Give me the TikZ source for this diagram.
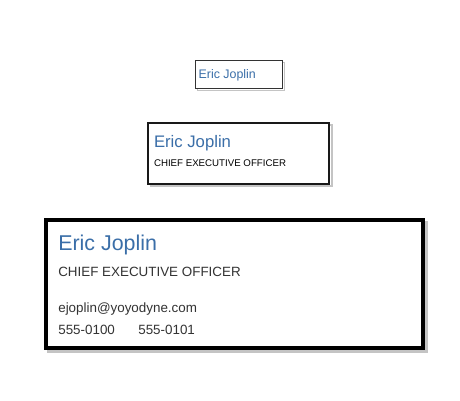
\documentclass[tikz,border=0pt]{standalone}
\usepackage{fontspec}
\setmainfont{Liberation Sans}
\definecolor{nameblue}{HTML}{3A6EA8}
\definecolor{titlegrey}{HTML}{333333}
\definecolor{shadowgrey}{HTML}{C4C4C4}
\begin{document}
\begin{tikzpicture}[x=1pt,y=-1pt,
  cardbox/.style={draw, fill=white, inner sep=0pt, outer sep=0pt},
  shadowbox/.style={draw=shadowgrey, inner sep=0pt, outer sep=0pt},
  txt/.style={anchor=base west, inner sep=0pt, outer sep=0pt},
  nm/.style={txt, text=nameblue},
  tt/.style={txt, text=titlegrey}]
\useasboundingbox (0,0) rectangle (460,400);
% small card
\node[shadowbox, line width=1pt, minimum width=87pt, minimum height=28pt] (s1) at (240.5,76) {};
\node[cardbox, draw=titlegrey, line width=1pt, minimum width=87pt, minimum height=28pt] (b1) at (239,74.5) {};
\node[nm, font=\fontsize{12.4}{14}\selectfont] (n1) at (198.7,78.5) {Eric Joplin};
% medium card
\node[shadowbox, line width=2pt, minimum width=181pt, minimum height=61pt] (s2) at (241,155.5) {};
\node[cardbox, draw=black!90, line width=2pt, minimum width=181pt, minimum height=61pt] (b2) at (238.5,153.5) {};
\node[nm, font=\fontsize{16.7}{19}\selectfont] (n2) at (154,147.5) {Eric Joplin};
\node[tt, text=black, font=\fontsize{9.7}{11}\selectfont] (t2) at (154,166.3) {CHIEF EXECUTIVE OFFICER};
% large card
\node[shadowbox, line width=4pt, minimum width=377pt, minimum height=128pt] (s3) at (237.5,286.5) {};
\node[cardbox, draw=black, line width=4pt, minimum width=377pt, minimum height=128pt] (b3) at (234.5,283.5) {};
\node[nm, font=\fontsize{21.4}{24}\selectfont] (n3) at (58.3,250.5) {Eric Joplin};
\node[tt, font=\fontsize{13.4}{15}\selectfont] (t3) at (58.3,276) {CHIEF EXECUTIVE OFFICER};
\node[tt, font=\fontsize{13.4}{15}\selectfont] (e3) at (58.3,312.5) {ejoplin@yoyodyne.com};
\node[tt, font=\fontsize{13.4}{15}\selectfont] (p3) at (58.3,334.5) {555-0100};
\node[tt, font=\fontsize{13.4}{15}\selectfont] (q3) at (138.3,334.5) {555-0101};
\end{tikzpicture}
\end{document}
